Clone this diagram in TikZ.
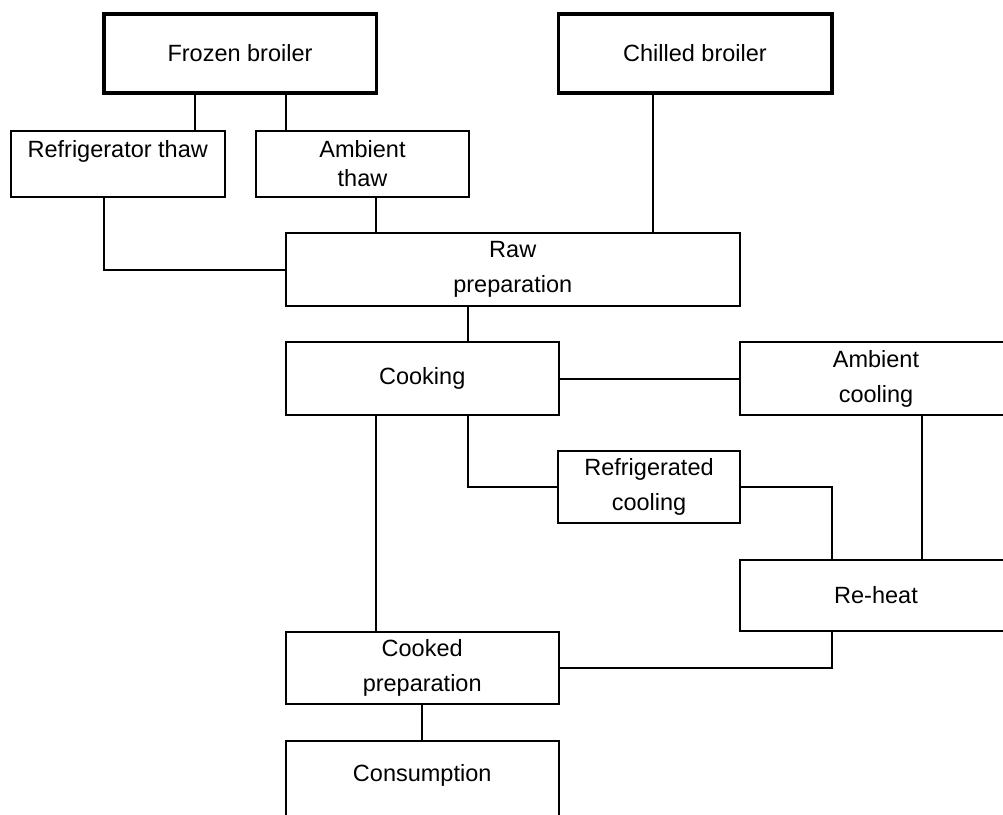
\documentclass[tikz,border=0pt]{standalone}
\usepackage{fontspec}
\setmainfont{Liberation Sans}
\usetikzlibrary{calc}
\begin{document}
\begin{tikzpicture}[x=0.5pt, y=-0.5pt,
  stage/.style={draw, line width=1pt, inner sep=0pt, align=center,
    font=\fontsize{11.75}{17.5}\selectfont},
  source/.style={stage, line width=1.75pt},
  thaw/.style={stage, font=\fontsize{11.75}{14.5}\selectfont},
  link/.style={line width=1pt}]
  \useasboundingbox (0,0) rectangle (1003,815);
  \clip (0,0) rectangle (1003,815);

  % Raw material (thick boxes)
  \node[source, minimum width=136.25pt, minimum height=39.5pt] (frozen) at (240,53.5) {Frozen broiler};
  \node[source, minimum width=136.75pt, minimum height=39.5pt] (chilled) at (695,53.5) {Chilled broiler};

  % Thawing
  \node[thaw, minimum width=106.75pt, minimum height=32.75pt] (rthaw) at (117.75,163.75) {Refrigerator thaw\\\phantom{thaw}};
  \node[thaw, minimum width=106.5pt, minimum height=32.75pt] (athaw) at (362.5,163.75) {Ambient\\thaw};

  % Preparation and cooking
  \node[stage, minimum width=227.25pt, minimum height=36.5pt] (raw) at (512.75,269.5) {Raw\\preparation};
  \node[stage, minimum width=136.25pt, minimum height=36.5pt] (cooking) at (422.25,378.5) {Cooking};
  \node[stage, minimum width=136pt, minimum height=36.5pt] (acool) at (876,378.5) {Ambient\\cooling};
  \node[stage, minimum width=91pt, minimum height=36.15pt] (rcool) at (649,487.3) {Refrigerated\\cooling};
  \node[stage, minimum width=136pt, minimum height=35.35pt] (reheat) at (876,595.3) {Re-heat};
  \node[stage, minimum width=136.5pt, minimum height=36pt] (cprep) at (422.2,667.7) {Cooked\\preparation};
  \node[stage, minimum width=136.5pt, minimum height=52pt] (eat) at (422.2,792.5) {Consumption\\\phantom{Consumption}};

  % Branch points
  \coordinate (f1) at ($(frozen.south)+(-45.5,0)$);
  \coordinate (f2) at ($(frozen.south)+(46,0)$);
  \coordinate (c1) at ($(chilled.south)+(-42.5,0)$);
  \coordinate (t1) at ($(rthaw.south)+(-14,0)$);
  \coordinate (t2) at ($(athaw.south)+(13,0)$);
  \coordinate (r1) at ($(raw.south)+(-45,0)$);
  \coordinate (k1) at ($(cooking.south)+(-46.75,0)$);
  \coordinate (k2) at ($(cooking.south)+(45.4,0)$);
  \coordinate (a1) at ($(acool.south)+(46,0)$);
  \coordinate (h1) at ($(reheat.north)+(-44.4,0)$);
  \coordinate (h2) at ($(reheat.south)+(-44.4,0)$);

  % Connections
  \draw[link] (f1) -- (f1 |- rthaw.north);
  \draw[link] (f2) -- (f2 |- athaw.north);
  \draw[link] (c1) -- (c1 |- raw.north);
  \draw[link] (t1) |- (raw.west);
  \draw[link] (t2) -- (t2 |- raw.north);
  \draw[link] (r1) -- (r1 |- cooking.north);
  \draw[link] (cooking.east) -- (acool.west);
  \draw[link] (k1) -- (k1 |- cprep.north);
  \draw[link] (k2) |- (rcool.west);
  \draw[link] (rcool.east) -| (h1);
  \draw[link] (a1) -- (a1 |- reheat.north);
  \draw[link] (h2) |- (cprep.east);
  \draw[link] (cprep.south) -- (eat.north);
\end{tikzpicture}
\end{document}
